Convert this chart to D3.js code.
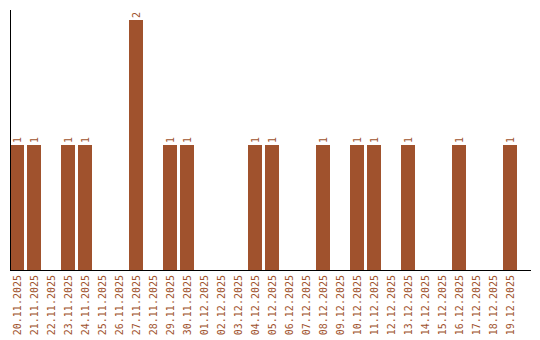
<!DOCTYPE html>
<html>
<head>
<meta charset="utf-8">
<script src="https://cdn.jsdelivr.net/npm/d3@7"></script>
<style>
  body { margin: 0; background: #fff; }
  text { font-family: "DejaVu Sans Mono", monospace; font-size: 10px; fill: #a0522d; }
</style>
</head>
<body>
<div id="chart"></div>
<script>
// Data
const dates = ["20.11.2025", "21.11.2025", "22.11.2025", "23.11.2025", "24.11.2025",
  "25.11.2025", "26.11.2025", "27.11.2025", "28.11.2025", "29.11.2025", "30.11.2025",
  "01.12.2025", "02.12.2025", "03.12.2025", "04.12.2025", "05.12.2025", "06.12.2025",
  "07.12.2025", "08.12.2025", "09.12.2025", "10.12.2025", "11.12.2025", "12.12.2025",
  "13.12.2025", "14.12.2025", "15.12.2025", "16.12.2025", "17.12.2025", "18.12.2025",
  "19.12.2025"];
const counts = [1, 1, 0, 1, 1, 0, 0, 2, 0, 1, 1, 0, 0, 0, 1, 1, 0, 0, 1, 0, 1, 1, 0, 1, 0, 0, 1, 0, 0, 1];

const width = 540, height = 340;
const barColor = "#a0522d";

const data = dates.map((d, i) => ({ date: d, value: counts[i] }));

const svg = d3.select("#chart").append("svg")
  .attr("width", width)
  .attr("height", height);

const x = d3.scaleBand()
  .domain(dates)
  .range([10, 517])
  .paddingInner(3 / 17)
  .paddingOuter(0);

const y = d3.scaleLinear()
  .domain([0, d3.max(counts)])
  .range([270, 20]);

// bars
svg.append("g")
  .selectAll("rect")
  .data(data.filter(d => d.value > 0))
  .join("rect")
  .attr("x", d => x(d.date))
  .attr("y", d => y(d.value))
  .attr("width", x.bandwidth())
  .attr("height", d => y(0) - y(d.value))
  .attr("fill", barColor);

// value labels
svg.append("g")
  .selectAll("text")
  .data(data.filter(d => d.value > 0))
  .join("text")
  .attr("transform", d => `translate(${x(d.date) + x.bandwidth() / 2},${y(d.value) - 2}) rotate(-90)`)
  .attr("dy", "0.35em")
  .attr("text-anchor", "start")
  .text(d => d.value);

// x axis
const xAxis = svg.append("g")
  .attr("transform", `translate(0,${y(0)})`)
  .call(d3.axisBottom(x).tickSize(0));
xAxis.select(".domain").remove();
xAxis.selectAll("text")
  .attr("transform", "rotate(-90)")
  .attr("x", -5)
  .attr("y", 0)
  .attr("dy", "0.35em")
  .attr("text-anchor", "end")
  .attr("fill", barColor)
  .style("font-family", "'DejaVu Sans Mono', monospace")
  .style("font-size", "10px");

// axis lines
svg.append("line")
  .attr("x1", 10).attr("x2", 531)
  .attr("y1", y(0) + 0.5).attr("y2", y(0) + 0.5)
  .attr("stroke", "#000");
svg.append("line")
  .attr("x1", 10.5).attr("x2", 10.5)
  .attr("y1", 10).attr("y2", y(0))
  .attr("stroke", "#000");
</script>
</body>
</html>
